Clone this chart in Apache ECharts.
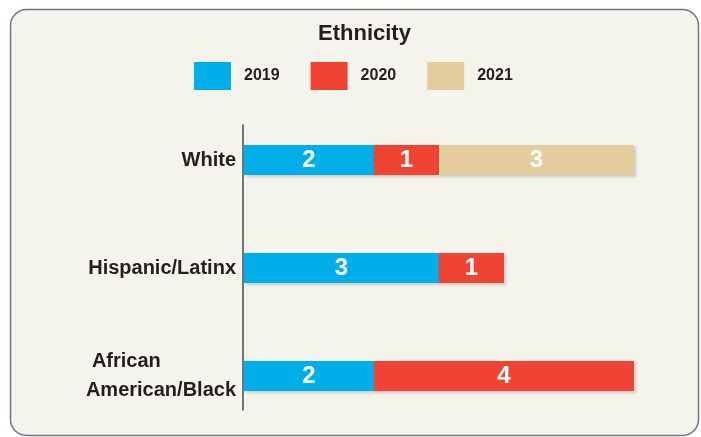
<!DOCTYPE html>
<html>
<head>
<meta charset="utf-8">
<script src="https://cdn.jsdelivr.net/npm/echarts@6/dist/echarts.min.js"></script>
<style>
  html, body { margin: 0; padding: 0; background: #ffffff; }
  #chart { width: 701px; height: 437px; }
</style>
</head>
<body>
<div id="chart"></div>
<script>
// Respondents by ethnicity, stacked by survey year
const categories = ['White', 'Hispanic/Latinx', 'African American/Black'];
const years = ['2019', '2020', '2021'];
const values2019 = [2, 3, 2];
const values2020 = [1, 1, 4];
const values2021 = [3, null, null];

const colors = ['#00aeea', '#ef4433', '#e3cd9c'];
const FONT = '"Liberation Sans", Arial, sans-serif';
const INK = '#231f20';

const chart = echarts.init(document.getElementById('chart'), null, { renderer: 'canvas' });

function barSeries(name, data, color) {
  return {
    name: name,
    type: 'bar',
    stack: 'total',
    xAxisIndex: 0,
    yAxisIndex: 0,
    barWidth: 30,
    data: data,
    itemStyle: {
      color: color,
      shadowColor: 'rgba(0,0,0,0.18)',
      shadowBlur: 3,
      shadowOffsetX: 2,
      shadowOffsetY: 2
    },
    label: {
      show: true,
      position: 'inside',
      color: '#ffffff',
      fontFamily: FONT,
      fontWeight: 'bold',
      fontSize: 24,
      formatter: p => (p.value == null ? '' : String(p.value))
    },
    emphasis: { disabled: true }
  };
}

chart.setOption({
  animation: false,
  backgroundColor: '#ffffff',
  graphic: [{
    type: 'rect',
    z: -10,
    silent: true,
    shape: { x: 10.5, y: 9.5, width: 688, height: 426, r: 16 },
    style: { fill: '#f5f4ec', stroke: '#6b7689', lineWidth: 1.5 }
  }],
  title: {
    text: 'Ethnicity',
    left: 318,
    top: 23,
    padding: 0,
    textStyle: { fontFamily: FONT, fontWeight: 'bold', fontSize: 22, color: INK }
  },
  legend: {
    data: years,
    left: 194,
    top: 62,
    padding: 0,
    itemWidth: 37,
    itemHeight: 28,
    itemGap: 31,
    icon: 'rect',
    textStyle: {
      fontFamily: FONT, fontWeight: 'bold', fontSize: 16, color: INK,
      padding: [0, 0, 0, 8]
    }
  },
  grid: [
    { left: 244, top: 106, width: 390, height: 324 },
    { left: 243, top: 125, width: 390, height: 285 }
  ],
  xAxis: [
    { type: 'value', gridIndex: 0, min: 0, max: 6, show: false },
    { type: 'value', gridIndex: 1, min: 0, max: 6, show: false }
  ],
  yAxis: [
    {
      type: 'category',
      gridIndex: 0,
      data: categories,
      inverse: true,
      axisLine: { show: false },
      axisTick: { show: false },
      axisLabel: {
        margin: 8,
        fontFamily: FONT,
        fontWeight: 'bold',
        fontSize: 20,
        color: INK,
        formatter: v => v === 'African American/Black'
          ? '{a|African}\n{b|American/Black}'
          : v,
        rich: {
          a: { fontFamily: FONT, fontWeight: 'bold', fontSize: 20, color: INK,
               align: 'left', padding: [0, 0, 0, 6], lineHeight: 29 },
          b: { fontFamily: FONT, fontWeight: 'bold', fontSize: 20, color: INK,
               lineHeight: 29 }
        }
      }
    },
    {
      type: 'category',
      gridIndex: 1,
      data: [],
      axisLine: { show: true, lineStyle: { color: '#555555', width: 1.6 } },
      axisTick: { show: false },
      axisLabel: { show: false }
    }
  ],
  series: [
    barSeries('2019', values2019, colors[0]),
    barSeries('2020', values2020, colors[1]),
    barSeries('2021', values2021, colors[2])
  ]
});
</script>
</body>
</html>
